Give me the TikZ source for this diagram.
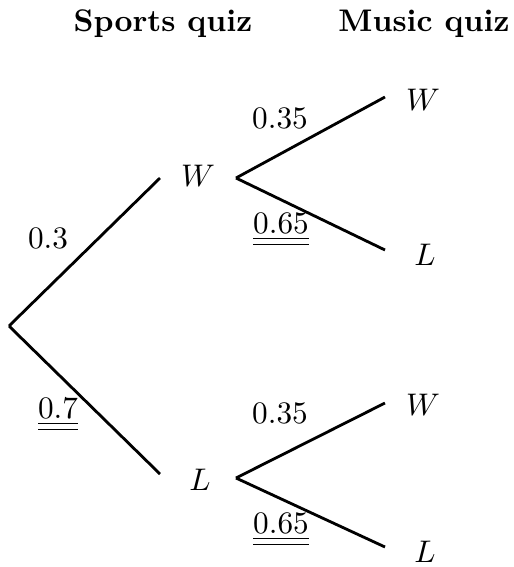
\documentclass[tikz,border=0pt]{standalone}
\begin{document}
\begin{tikzpicture}[x=0.32pt,y=-0.32pt,
  br/.style={line width=0.9pt},
  lab/.style={inner sep=0pt},
  hd/.style={inner sep=0pt,font=\bfseries}]
\useasboundingbox (0,0) rectangle (514,567);
\node[hd] (hs) at (163,24) {Sports quiz};
\node[hd] (hm) at (424,24) {Music quiz};
\coordinate (r) at (9,326);
\coordinate (aW) at (160,178);
\coordinate (aL) at (160,474);
\coordinate (bW) at (236,178);
\coordinate (bL) at (236,478);
\coordinate (cW1) at (385,97);
\coordinate (cL1) at (385,250);
\coordinate (cW2) at (385,403);
\coordinate (cL2) at (385,547);
\node[lab] (W) at (198,176) {$W$};
\node[lab] (L) at (200,480) {$L$};
\node[lab] (W1) at (423,100) {$W$};
\node[lab] (L1) at (425,255) {$L$};
\node[lab] (W2) at (423,405) {$W$};
\node[lab] (L2) at (425,552) {$L$};
\draw[br] (r) -- (aW);
\draw[br] (r) -- (aL);
\draw[br] (bW) -- (cW1);
\draw[br] (bW) -- (cL1);
\draw[br] (bL) -- (cW2);
\draw[br] (bL) -- (cL2);
\node[lab] (p1) at (48,238) {$0.3$};
\node[lab,anchor=north] (p2) at (58,398) {$\underline{\underline{0.7}}$};
\node[lab] (p3) at (280,118) {$0.35$};
\node[lab,anchor=north] (p4) at (281,213) {$\underline{\underline{0.65}}$};
\node[lab] (p5) at (280,413) {$0.35$};
\node[lab,anchor=north] (p6) at (281,513) {$\underline{\underline{0.65}}$};
\end{tikzpicture}
\end{document}
